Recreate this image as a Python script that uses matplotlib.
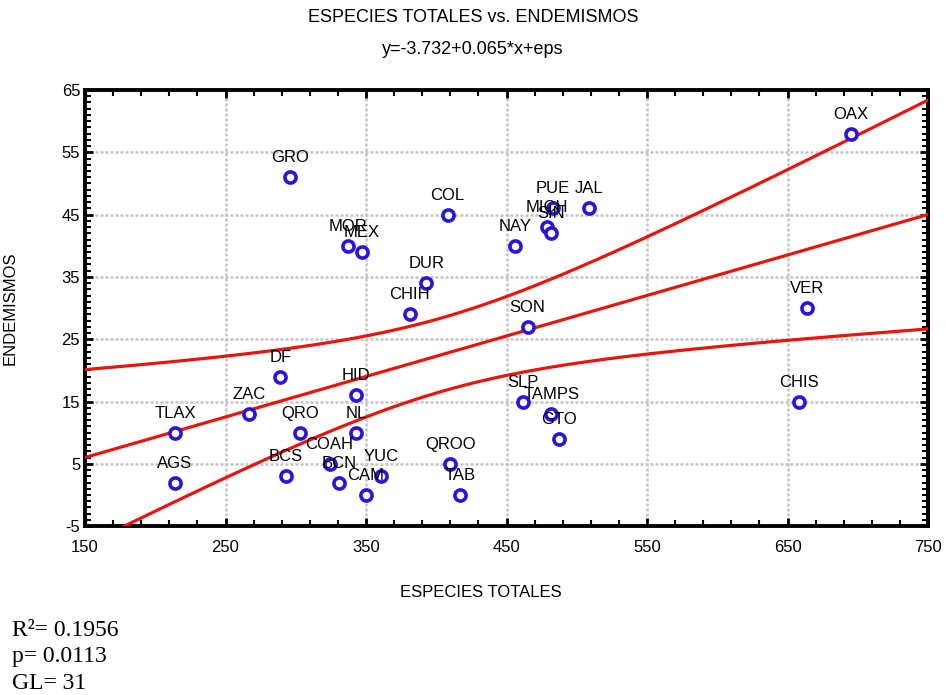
import numpy as np
import matplotlib
matplotlib.use('Agg')
import matplotlib.pyplot as plt
from matplotlib.ticker import MultipleLocator

# state abbreviations with total species (x) and endemic species (y)
estados = ['GRO', 'MOR', 'MEX', 'COL', 'DUR', 'CHIH', 'NAY', 'PUE', 'JAL', 'MICH', 'SIN',
           'SON', 'OAX', 'VER', 'CHIS', 'DF', 'ZAC', 'TLAX', 'AGS', 'QRO', 'HID', 'NL',
           'BCS', 'COAH', 'BCN', 'CAM', 'YUC', 'QROO', 'TAB', 'SLP', 'TAMPS', 'GTO']
especies_totales = [296, 337, 347, 408, 393, 381, 456, 483, 509, 479, 482,
                    465, 695, 664, 658, 289, 267, 214, 214, 303, 343, 343,
                    293, 324, 331, 350, 361, 410, 417, 462, 482, 487]
endemismos = [51, 40, 39, 45, 34, 29, 40, 46, 46, 43, 42,
              27, 58, 30, 15, 19, 13, 10, 2, 10, 16, 10,
              3, 5, 2, 0, 3, 5, 0, 15, 13, 9]

# regression reported in the original figure
b0 = -3.732
b1 = 0.065
t_95 = 2.042   # t(0.975, 30)

x = np.array(especies_totales, dtype=float)
y = np.array(endemismos, dtype=float)
n = len(x)

# 95% confidence band for the mean
resid = y - (b0 + b1 * x)
s = np.sqrt(np.sum(resid ** 2) / (n - 2))
sxx = np.sum((x - x.mean()) ** 2)
xs = np.linspace(150, 750, 200)
ys = b0 + b1 * xs
half = t_95 * s * np.sqrt(1.0 / n + (xs - x.mean()) ** 2 / sxx)

plt.rcParams['font.family'] = ['Liberation Sans', 'DejaVu Sans']
plt.rcParams['axes.unicode_minus'] = False

fig = plt.figure(figsize=(9.46, 6.95), dpi=100)
ax = fig.add_axes([0.0899, 0.243, 0.8911, 0.6275])

red = '#e8150f'
ax.plot(xs, ys, color=red, lw=2.3, zorder=3)
ax.plot(xs, ys + half, color=red, lw=2.3, zorder=3)
ax.plot(xs, ys - half, color=red, lw=2.3, zorder=3)

ax.plot(x, y, 'o', ms=8, mfc='white', mec='#2a14dc', mew=2.6, zorder=4)

for name, xi, yi in zip(estados, x, y):
    ax.annotate(name, (xi, yi), xytext=(0, 14), textcoords='offset points',
                ha='center', va='center', fontsize=12, zorder=5)

ax.set_xlim(150, 750)
ax.set_ylim(-5, 65)
ax.set_xticks(np.arange(150, 751, 100))
ax.set_yticks(np.arange(-5, 66, 10))
ax.xaxis.set_minor_locator(MultipleLocator(20, offset=10))
ax.yaxis.set_minor_locator(MultipleLocator(1))
ax.tick_params(which='both', direction='in', top=True, right=True, labelsize=12)
ax.tick_params(which='major', length=6, width=2)
ax.tick_params(which='minor', length=4, width=1.5)
ax.tick_params(axis='x', pad=10)
ax.grid(True, which='major', color='#c4c4c4', ls=(0, (1.2, 0.8)), lw=1.8, zorder=1)
for sp in ax.spines.values():
    sp.set_linewidth(2.8)

ax.set_xlabel('ESPECIES TOTALES', fontsize=12)
ax.set_ylabel('ENDEMISMOS', fontsize=12)
ax.xaxis.set_label_coords(0.47, -0.135)
ax.yaxis.set_label_coords(-0.0795, 0.5)

fig.text(0.5, 1 - 18 / 695, 'ESPECIES TOTALES vs. ENDEMISMOS', ha='center', va='center',
         fontsize=13)
fig.text(0.5, 1 - 50 / 695, 'y=-3.732+0.065*x+eps', ha='center', va='center',
         fontsize=13)

# stats in the bottom left corner
stats = ['R\u00b2= 0.1956', 'p= 0.0113', 'GL= 31']
baselines = [636, 662, 689]
for txt, yb in zip(stats, baselines):
    fig.text(12 / 946, 1 - yb / 695, txt, ha='left', va='baseline',
             fontsize=17, family='Liberation Serif')

fig.savefig('out.png', dpi=100)
